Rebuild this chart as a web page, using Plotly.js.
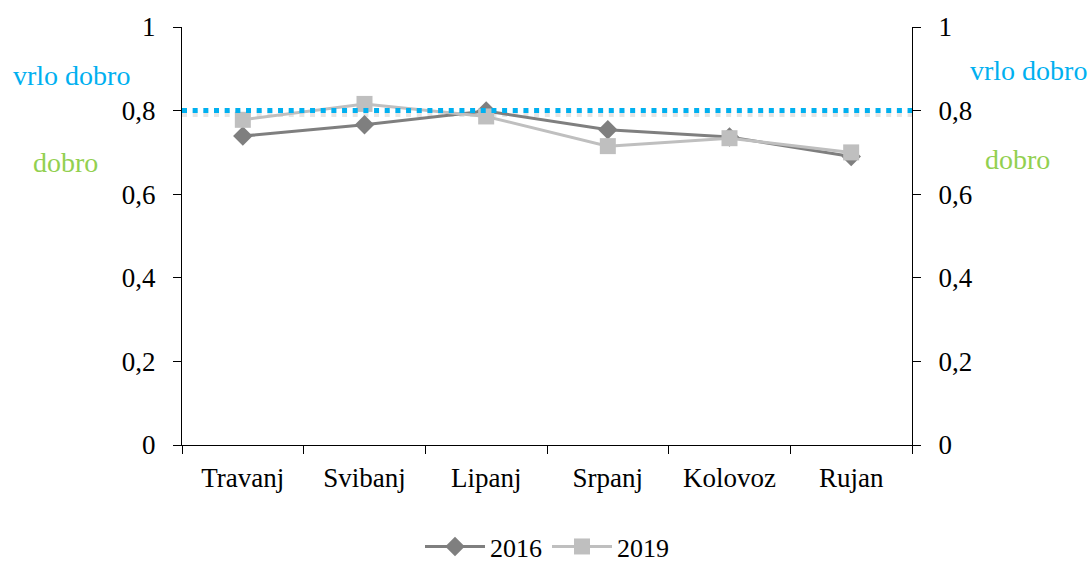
<!DOCTYPE html>
<html>
<head>
<meta charset="utf-8">
<script src="https://cdn.plot.ly/plotly-3.0.1.min.js"></script>
<style>html,body{margin:0;padding:0;background:#fff;}#chart{width:1091px;height:564px;}</style>
</head>
<body>
<div id="chart"></div>
<script>
const months = ["Travanj", "Svibanj", "Lipanj", "Srpanj", "Kolovoz", "Rujan"];
const values2016 = [0.739, 0.766, 0.799, 0.754, 0.737, 0.690];
const values2019 = [0.778, 0.816, 0.786, 0.715, 0.734, 0.700];
const threshold = 0.8;
const yTickVals = [0, 0.2, 0.4, 0.6, 0.8, 1];
const yTickText = ["0", "0,2", "0,4", "0,6", "0,8", "1"];

const FAM = "Liberation Serif";
const font = {family: FAM, size: 27, color: "#000"};

const traces = [
  {x: months, y: values2016, name: "2016", type: "scatter", mode: "lines+markers",
   line: {color: "#7f7f7f", width: 3}, marker: {symbol: "diamond", size: 15, color: "#7f7f7f"}},
  {x: months, y: values2019, name: "2019", type: "scatter", mode: "lines+markers",
   line: {color: "#bfbfbf", width: 3}, marker: {symbol: "square", size: 16, color: "#bfbfbf"}},
  {x: months, y: values2016, yaxis: "y2", showlegend: false, hoverinfo: "skip", mode: "none", type: "scatter"}
];

const layout = {
  width: 1091, height: 564,
  margin: {l: 182, r: 179, t: 27, b: 119, autoexpand: false},
  paper_bgcolor: "#fff", plot_bgcolor: "#fff",
  font: font,
  showlegend: true,
  legend: {orientation: "h", x: 0.5, xanchor: "center", y: -0.243, yanchor: "middle",
           font: {family: FAM, size: 26, color: "#000"}, itemwidth: 60, tracegroupgap: 0},
  xaxis: {type: "category", range: [-0.5, 5.5], tickson: "boundaries", ticks: "outside", ticklen: 8,
          tickcolor: "#000", showline: true, linecolor: "#000", linewidth: 1, showgrid: false,
          zeroline: false, tickfont: font, ticklabelstandoff: 9, automargin: false},
  yaxis: {range: [0, 1], tickvals: yTickVals, ticktext: yTickText, ticks: "outside", ticklen: 8,
          tickcolor: "#000", showline: true, linecolor: "#000", showgrid: false, zeroline: false,
          tickfont: font, ticklabelstandoff: 12, automargin: false},
  yaxis2: {range: [0, 1], tickvals: yTickVals, ticktext: yTickText, overlaying: "y", side: "right",
           ticks: "outside", ticklen: 8, tickcolor: "#000", showline: true, linecolor: "#000",
           showgrid: false, zeroline: false, tickfont: font, ticklabelstandoff: 12, automargin: false},
  shapes: [
    {type: "line", xref: "paper", x0: 0, x1: 1, yref: "y", y0: threshold - 0.007, y1: threshold - 0.007,
     line: {color: "rgba(0,0,0,0.10)", width: 7, dash: "5px,5.67px"}, layer: "below"},
    {type: "line", xref: "paper", x0: 0, x1: 1, yref: "y", y0: threshold, y1: threshold,
     line: {color: "#00b0f0", width: 5, dash: "5px,5.67px"}, layer: "above"}
  ],
  annotations: [
    {xref: "paper", yref: "paper", x: -0.151, y: 0.885, text: "vrlo dobro", showarrow: false,
     xanchor: "center", yanchor: "middle", font: {family: FAM, size: 28, color: "#00b0f0"}},
    {xref: "paper", yref: "paper", x: -0.160, y: 0.677, text: "dobro", showarrow: false,
     xanchor: "center", yanchor: "middle", font: {family: FAM, size: 28, color: "#92d050"}},
    {xref: "paper", yref: "paper", x: 1.159, y: 0.897, text: "vrlo dobro", showarrow: false,
     xanchor: "center", yanchor: "middle", font: {family: FAM, size: 28, color: "#00b0f0"}},
    {xref: "paper", yref: "paper", x: 1.144, y: 0.684, text: "dobro", showarrow: false,
     xanchor: "center", yanchor: "middle", font: {family: FAM, size: 28, color: "#92d050"}}
  ]
};

Plotly.newPlot("chart", traces, layout, {staticPlot: true, displayModeBar: false});
</script>
</body>
</html>
